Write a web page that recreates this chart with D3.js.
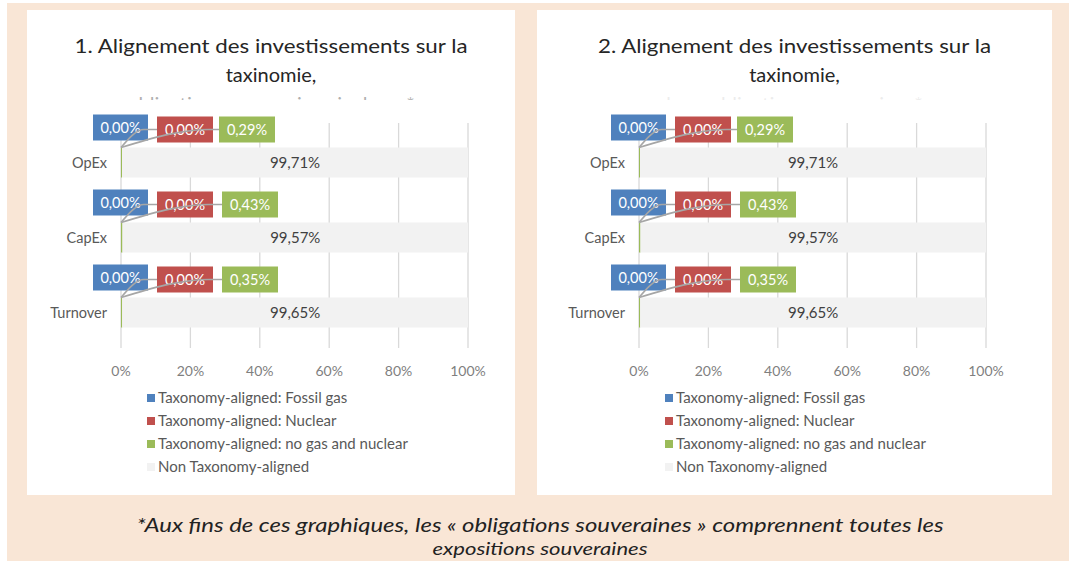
<!DOCTYPE html>
<html><head><meta charset="utf-8">
<script src="https://cdn.jsdelivr.net/npm/d3@7"></script>
<style>
html,body{margin:0;padding:0;background:#fff;}
svg{display:block;font-family:Lato,"Open Sans",sans-serif;}
</style></head>
<body>
<svg id="chart" width="1069" height="561"></svg>
<script>
// ---- data ----
const categories = ["OpEx", "CapEx", "Turnover"];
const fossilGas = [0.00, 0.00, 0.00];
const nuclear = [0.00, 0.00, 0.00];
const noGasNuclear = [0.29, 0.43, 0.35];
const nonAligned = [99.71, 99.57, 99.65];
const xTicks = [0, 20, 40, 60, 80, 100];
const seriesNames = ["Taxonomy-aligned: Fossil gas", "Taxonomy-aligned: Nuclear",
  "Taxonomy-aligned: no gas and nuclear", "Non Taxonomy-aligned"];
const seriesColors = ["#4f81bd", "#c0504d", "#9bbb59", "#f2f2f2"];
const panelTitles = [
  ["1. Alignement des investissements sur la", "taxinomie,", "obligations souveraines incluses*"],
  ["2. Alignement des investissements sur la", "taxinomie,", "hors obligations souveraines*"]
];
const footnoteLines = ["*Aux fins de ces graphiques, les « obligations souveraines » comprennent toutes les",
  "expositions souveraines"];

const fmt = v => v.toFixed(2).replace(".", ",") + "%";
const svg = d3.select("#chart");

// background
svg.append("rect").attr("x", 7).attr("y", 3).attr("width", 1062).attr("height", 558).attr("fill", "#f9e6d6");

const panels = [
  {x: 27, w: 488, plot: [121, 468], titleFade: 0.35},
  {x: 537, w: 515, plot: [639, 986], titleFade: 0.08}
];

function fitText(sel, width) {
  const n = sel.node();
  const len = n.getComputedTextLength();
  if (width && Math.abs(len - width) > 2) sel.attr("textLength", width).attr("lengthAdjust", "spacingAndGlyphs");
}

panels.forEach((p, pi) => {
  const g = svg.append("g");
  g.append("rect").attr("x", p.x).attr("y", 10).attr("width", p.w).attr("height", 485).attr("fill", "#fff");
  const cx = p.x + p.w / 2;
  const tl = panelTitles[pi];
  const t1 = g.append("text").attr("x", cx).attr("y", 53).attr("text-anchor", "middle")
    .attr("font-size", 20).attr("fill", "#262626").text(tl[0]);
  fitText(t1, 393);
  g.append("text").attr("x", cx).attr("y", 82).attr("text-anchor", "middle")
    .attr("font-size", 20).attr("fill", "#262626").text(tl[1]);
  // third line mostly hidden behind the plot area
  const clipId = "clip" + pi;
  svg.append("clipPath").attr("id", clipId).append("rect")
    .attr("x", p.x).attr("y", 88).attr("width", p.w).attr("height", 12);
  g.append("text").attr("x", cx).attr("y", 111).attr("text-anchor", "middle")
    .attr("font-size", 20).attr("fill", "#1a1a1a").attr("opacity", p.titleFade)
    .attr("clip-path", `url(#${clipId})`).text(tl[2]);

  const x = d3.scaleLinear().domain([0, 100]).range(p.plot);
  const y = d3.scaleBand().domain(categories).range([125, 350]).paddingInner(0.6).paddingOuter(0.3);

  // gridlines
  g.selectAll(".grid").data(xTicks).join("line")
    .attr("x1", d => x(d)).attr("x2", d => x(d))
    .attr("y1", 123).attr("y2", 348)
    .attr("stroke", "#d9d9d9").attr("stroke-width", 1.3);

  // x tick labels
  g.selectAll(".xt").data(xTicks).join("text")
    .attr("x", d => x(d)).attr("y", 376).attr("text-anchor", "middle")
    .attr("font-size", 14).attr("fill", "#7f7f7f").text(d => d + "%");

  // stacked bars
  const rows = categories.map((c, i) => ({c, vals: [fossilGas[i], nuclear[i], noGasNuclear[i], nonAligned[i]]}));
  rows.forEach(r => {
    let acc = 0;
    r.vals.forEach((v, si) => {
      g.append("rect").attr("x", x(acc)).attr("y", y(r.c))
        .attr("width", x(acc + v) - x(acc)).attr("height", y.bandwidth())
        .attr("fill", seriesColors[si]);
      acc += v;
    });
    // non-aligned label
    const s0 = r.vals[0] + r.vals[1] + r.vals[2];
    g.append("text").attr("x", x(s0 + r.vals[3] / 2)).attr("y", y(r.c) + y.bandwidth() / 2)
      .attr("dy", "0.35em").attr("text-anchor", "middle").attr("font-size", 15)
      .attr("fill", "#404040").text(fmt(r.vals[3]));
    // category label
    g.append("text").attr("x", x(0) - 14).attr("y", y(r.c) + y.bandwidth() / 2)
      .attr("dy", "0.35em").attr("text-anchor", "end").attr("font-size", 14.5)
      .attr("fill", "#595959").text(r.c);

    // small-value callout labels
    const top = y(r.c);
    const x0 = x(0);
    const boxes = [
      {l: x0 - 28, t: top - 33, w: 55, v: r.vals[0], c: seriesColors[0]},
      {l: x0 + 36, t: top - 31, w: 56, v: r.vals[1], c: seriesColors[1]},
      {l: x0 + 98 + (r.vals[2] >= 0.35 ? 3 : 0), t: top - 31, w: 56, v: r.vals[2], c: seriesColors[2]}
    ];
    boxes.forEach(b => {
      g.append("rect").attr("x", b.l).attr("y", b.t).attr("width", b.w).attr("height", 26).attr("fill", b.c);
      g.append("text").attr("x", b.l + b.w / 2).attr("y", b.t + 13).attr("dy", "0.36em")
        .attr("text-anchor", "middle").attr("font-size", 14.5).attr("fill", "#fff").text(fmt(b.v));
    });
    // leader lines
    const anchor = [x(0), top];
    const line = d3.line().curve(d3.curveMonotoneX);
    [[boxes[0], boxes[1]], [boxes[1], boxes[2]]].forEach(([prev, nxt]) => {
      const midY = nxt.t + 13;
      g.append("path").attr("d", line([anchor, [prev.l + prev.w - 4, midY], [nxt.l, midY]]))
        .attr("fill", "none").attr("stroke", "#a6a6a6").attr("stroke-width", 1.6);
    });
  });

  // legend
  seriesNames.forEach((n, i) => {
    const ly = 398 + i * 23;
    g.append("rect").attr("x", x(0) + 26).attr("y", ly - 4).attr("width", 8).attr("height", 8)
      .attr("fill", seriesColors[i]);
    g.append("text").attr("x", x(0) + 37).attr("y", ly).attr("dy", "0.35em")
      .attr("font-size", 15).attr("fill", "#595959").text(n);
  });
});

// footnote
const f1 = svg.append("text").attr("x", 540).attr("y", 532).attr("text-anchor", "middle")
  .attr("font-size", 19).attr("font-style", "italic").attr("fill", "#222").text(footnoteLines[0]);
fitText(f1, 807);
const f2 = svg.append("text").attr("x", 540).attr("y", 555).attr("text-anchor", "middle")
  .attr("font-size", 17).attr("font-style", "italic").attr("fill", "#222").text(footnoteLines[1]);
fitText(f2, 215);
</script>
</body></html>
